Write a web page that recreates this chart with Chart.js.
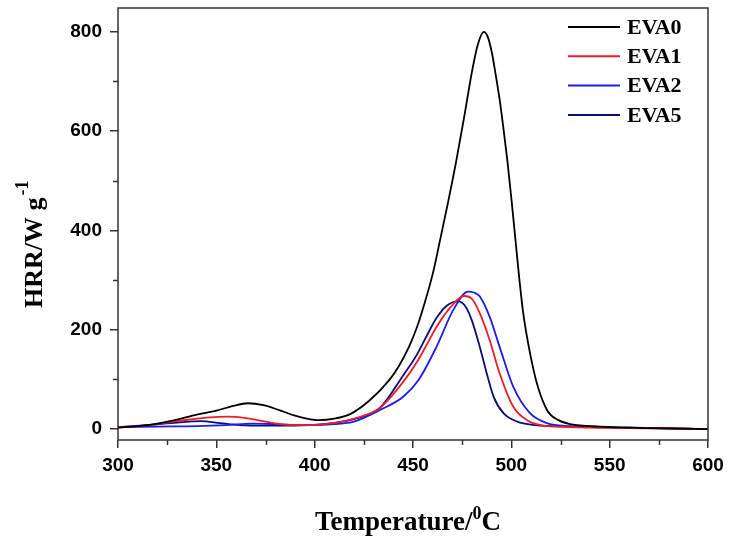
<!DOCTYPE html>
<html>
<head>
<meta charset="utf-8">
<script src="https://cdn.jsdelivr.net/npm/chart.js@4.4.0/dist/chart.umd.min.js"></script>
<style>
  html, body { margin: 0; padding: 0; background: #fff; }
  #wrap { width: 733px; height: 541px; }
</style>
</head>
<body>
<div id="wrap"><canvas id="hrrChart"></canvas></div>
<script>
// HRR curves
const temps0 = [300, 310, 320, 330, 340, 350, 358, 366, 374, 382, 390, 396, 402, 410, 418, 428, 438, 443, 448, 452, 456, 460, 464, 468, 472, 476, 480, 483, 486, 488, 490, 492, 494, 496, 498, 500, 502, 504, 506, 509.5, 513.5, 518.5, 524, 530, 545, 570, 600];
const hrr0   = [3, 6, 11, 19, 29, 37, 46, 52, 48, 38, 27, 21, 18, 21, 30, 58, 99, 128, 166, 205, 255, 312, 385, 460, 540, 628, 720, 775, 800, 790, 760, 715, 665, 605, 540, 465, 385, 305, 235, 153, 85, 36, 18, 10, 5, 2, 0];

const temps1 = [300, 315, 330, 345, 356, 365, 375, 385, 395, 405, 415, 425, 433, 445, 452, 457, 462, 469, 476, 480, 484, 489, 494, 501, 508, 515, 530, 560, 600];
const hrr1   = [3, 8, 16, 23, 25, 22, 15, 9, 8, 10, 16, 27, 42, 95, 135, 170, 206, 245, 268, 262, 233, 179, 113, 45, 18, 8, 4, 2, 0];

const temps2 = [300, 320, 340, 355, 368, 380, 395, 410, 420, 433, 445, 453, 462, 470.5, 478, 481, 484, 489, 494, 501, 509.5, 518, 530, 560, 600];
const hrr2   = [4, 5, 6, 8, 11, 10, 8, 10, 15, 38, 65, 100, 166, 240, 277, 275, 267, 226, 166, 85, 32, 12, 6, 3, 0];

const temps5 = [300, 315, 330, 342, 352, 362, 375, 390, 405, 420, 433, 445, 452, 457, 462, 467, 473, 477, 480, 484, 488, 491, 496, 503, 512, 530, 560, 600];
const hrr5   = [4, 8, 13, 16, 12, 8, 7, 7, 10, 20, 42, 108, 150, 188, 224, 248, 257, 245, 218, 165, 105, 65, 32, 15, 8, 5, 3, 0];

const seriesNames = ['EVA0', 'EVA1', 'EVA2', 'EVA5'];
const seriesColors = ['#000000', '#ee1c24', '#1c1cf0', '#0c0c7a'];

const yMajor = [0, 200, 400, 600, 800];
const yMinor = [100, 300, 500, 700];
const xMajor = [300, 350, 400, 450, 500, 550, 600];
const xMinor = [325, 375, 425, 475, 525, 575];

const toPoints = (xs, ys) => xs.map((t, i) => ({ x: t, y: ys[i] }));
const allTemps = [temps0, temps1, temps2, temps5];
const allHrr = [hrr0, hrr1, hrr2, hrr5];

const tickFont = { family: '"Liberation Sans", Arial, sans-serif', size: 19, weight: 'bold' };
const serif = '"Liberation Serif", "Times New Roman", serif';

// frame, minor ticks, legend and axis titles (titles have superscripts)
const decor = {
  id: 'decor',
  afterDraw(chart) {
    const ctx = chart.ctx;
    const a = chart.chartArea;
    const xs = chart.scales.x, ys = chart.scales.y;
    ctx.save();
    ctx.strokeStyle = '#333';
    ctx.lineWidth = 1.5;
    ctx.strokeRect(a.left, a.top, a.right - a.left, a.bottom - a.top);

    ctx.beginPath();
    yMinor.forEach(v => {
      const p = Math.round(ys.getPixelForValue(v)) + 0.5;
      ctx.moveTo(a.left - 5, p); ctx.lineTo(a.left, p);
    });
    xMinor.forEach(v => {
      const p = Math.round(xs.getPixelForValue(v)) + 0.5;
      ctx.moveTo(p, a.bottom); ctx.lineTo(p, a.bottom + 5);
    });
    ctx.stroke();

    // legend
    ctx.font = 'bold 22px ' + serif;
    ctx.textBaseline = 'middle';
    ctx.textAlign = 'left';
    chart.data.datasets.forEach((ds, i) => {
      const y = 27 + i * 29.3;
      ctx.strokeStyle = ds.borderColor;
      ctx.lineWidth = 2;
      ctx.beginPath();
      ctx.moveTo(568, y); ctx.lineTo(620, y);
      ctx.stroke();
      ctx.fillStyle = '#000';
      ctx.fillText(ds.label, 627, y + 1);
    });

    // x title
    ctx.fillStyle = '#000';
    ctx.textBaseline = 'alphabetic';
    let x = 315;
    const base = 530;
    ctx.font = 'bold 27px ' + serif;
    ctx.fillText('Temperature/', x, base);
    x += ctx.measureText('Temperature/').width;
    ctx.font = 'bold 18px ' + serif;
    ctx.fillText('0', x, base - 11);
    x += ctx.measureText('0').width;
    ctx.font = 'bold 27px ' + serif;
    ctx.fillText('C', x, base);

    // y title
    ctx.translate(42, 308);
    ctx.rotate(-Math.PI / 2);
    ctx.font = 'bold 26px ' + serif;
    ctx.fillText('HRR/W g', 0, 0);
    let w = ctx.measureText('HRR/W g').width;
    ctx.font = 'bold 18px ' + serif;
    ctx.fillText('-1', w + 2, -14);
    ctx.restore();
  }
};

new Chart(document.getElementById('hrrChart'), {
  type: 'line',
  data: {
    datasets: seriesNames.map((name, i) => ({
      label: name,
      data: toPoints(allTemps[i], allHrr[i]),
      borderColor: seriesColors[i],
      backgroundColor: seriesColors[i],
      borderWidth: 1.8,
      pointRadius: 0,
      cubicInterpolationMode: 'monotone',
      fill: false
    }))
  },
  options: {
    responsive: true,
    maintainAspectRatio: false,
    animation: false,
    layout: { padding: { left: 0, right: 25, top: 8, bottom: 0 } },
    plugins: {
      legend: { display: false },
      tooltip: { enabled: false }
    },
    scales: {
      x: {
        type: 'linear',
        min: 300,
        max: 600,
        afterBuildTicks: s => { s.ticks = xMajor.map(v => ({ value: v })); },
        afterFit: s => { s.height = 101; s.paddingLeft = 0; s.paddingRight = 0; },
        border: { display: false },
        grid: { drawOnChartArea: false, tickLength: 8, color: '#333', lineWidth: 1.5 },
        ticks: { font: tickFont, color: '#000', padding: 6, maxRotation: 0 }
      },
      y: {
        min: -22,
        max: 848,
        afterBuildTicks: s => { s.ticks = yMajor.map(v => ({ value: v })); },
        afterFit: s => { s.width = 118; s.paddingTop = 0; s.paddingBottom = 0; },
        border: { display: false },
        grid: { drawOnChartArea: false, tickLength: 8, color: '#333', lineWidth: 1.5 },
        ticks: { font: tickFont, color: '#000', padding: 8 }
      }
    }
  },
  plugins: [decor]
});
</script>
</body>
</html>
